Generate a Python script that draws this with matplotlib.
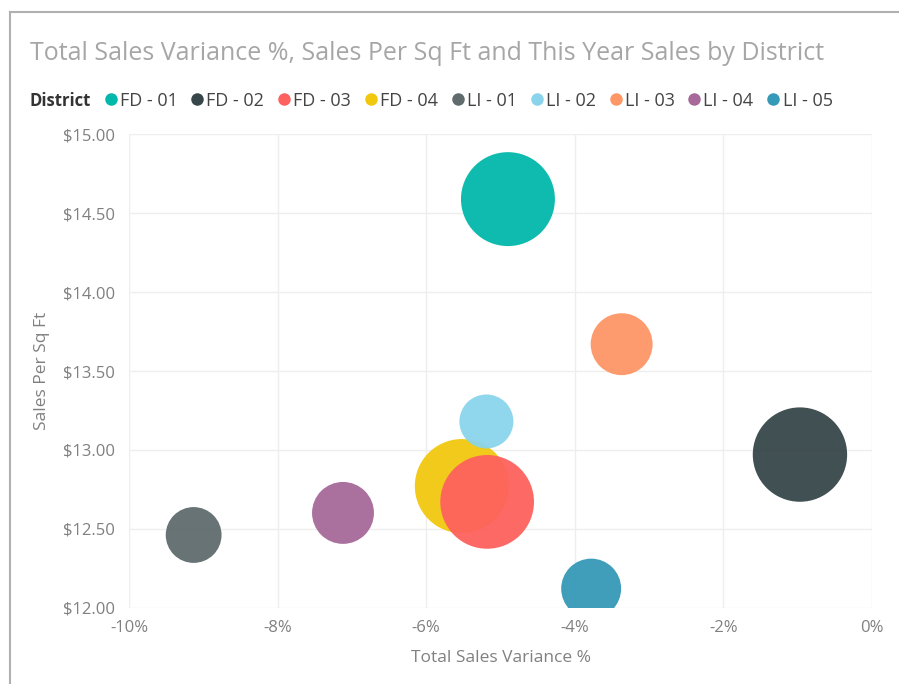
import numpy as np
import matplotlib
matplotlib.use("Agg")
import matplotlib.pyplot as plt
from matplotlib.lines import Line2D

districts = ["FD - 01", "FD - 02", "FD - 03", "FD - 04", "LI - 01", "LI - 02", "LI - 03", "LI - 04", "LI - 05"]
variance = [-4.90, -0.97, -5.18, -5.52, -9.13, -5.19, -3.37, -7.12, -3.78]   # Total Sales Variance %
sales_sqft = [14.59, 12.97, 12.67, 12.77, 12.46, 13.18, 13.67, 12.60, 12.12]
this_year_sales = [22.1, 22.3, 22.0, 22.2, 7.8, 7.3, 9.6, 9.6, 9.0]   # $M, bubble size
colors = ["#01B8AA", "#374649", "#FD625E", "#F2C80F", "#5F6B6D", "#8AD4EB", "#FE9666", "#A66999", "#3599B8"]

y_ticks = [12.0, 12.5, 13.0, 13.5, 14.0, 14.5, 15.0]
x_ticks = [-10, -8, -6, -4, -2, 0]

FONT = ["Open Sans", "DejaVu Sans"]
plt.rcParams["font.family"] = FONT

fig = plt.figure(figsize=(8.99, 6.84), dpi=100)
ax = fig.add_axes([0.1435, 0.1118, 0.8265, 0.6916])

# bubble area ~ sales, big ones drawn first
size_scale = 207
order = np.argsort(this_year_sales)[::-1]
for i in order:
    ax.scatter(variance[i], sales_sqft[i], s=this_year_sales[i] * size_scale,
               color=colors[i], edgecolors="none", alpha=0.95, zorder=3)

ax.set_xlim(-10, 0)
ax.set_ylim(12, 15)
ax.set_xticks(x_ticks)
ax.set_xticklabels(["%d%%" % v for v in x_ticks])
ax.set_yticks(y_ticks)
ax.set_yticklabels(["$%.2f" % v for v in y_ticks])
ax.grid(True, color="#eeeeee", linewidth=1, zorder=0)
ax.set_axisbelow(True)
for sp in ax.spines.values():
    sp.set_visible(False)
ax.tick_params(axis="y", length=0, colors="#808080", labelsize=12, pad=10)
ax.tick_params(axis="x", length=0, colors="#808080", labelsize=12, pad=9)
ax.set_xlabel("Total Sales Variance %", color="#808080", fontsize=12.5, labelpad=10)
ax.set_ylabel("Sales Per Sq Ft", color="#808080", fontsize=12.5, labelpad=9)

# frame of the visual
fig.add_artist(Line2D([0.0115, 0.0115], [0, 0.982], color="#b0b0b0", linewidth=1.5))
fig.add_artist(Line2D([0.0115, 1.0], [0.982, 0.982], color="#b0b0b0", linewidth=1.5))

fig.text(0.033, 0.922, "Total Sales Variance %, Sales Per Sq Ft and This Year Sales by District",
         fontsize=18, color="#a6a6a6", va="center")

fig.text(0.033, 0.853, "District", fontsize=12, fontweight="bold", color="#333333", va="center")
handles = [Line2D([], [], marker="o", linestyle="none", markersize=9, color=c, markeredgewidth=0) for c in colors]
fig.legend(handles, districts, loc="center left", bbox_to_anchor=(0.113, 0.853), ncol=9,
           frameon=False, handletextpad=0.0, columnspacing=0.6, handlelength=1.0,
           fontsize=13, labelcolor="#444444", borderaxespad=0, borderpad=0)

fig.savefig("out.png", dpi=100)
